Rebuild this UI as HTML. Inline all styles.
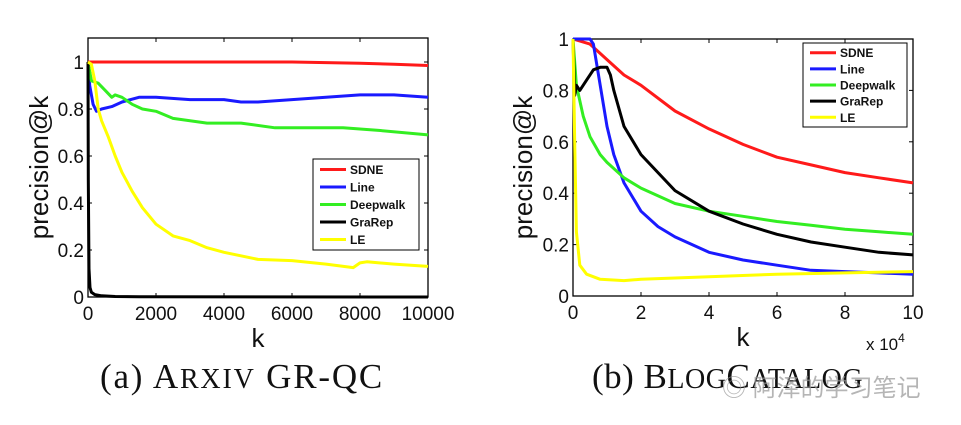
<!DOCTYPE html>
<html><head><meta charset="utf-8">
<style>
html,body{margin:0;padding:0;background:#fff;}
body{width:961px;height:425px;overflow:hidden;position:relative;}
svg{position:absolute;left:0;top:0;}
.cap{position:absolute;font-family:"Liberation Serif",serif;font-size:35px;color:#111;white-space:nowrap;letter-spacing:1.8px;}
.sc{font-size:0.8em;}
.wm{position:absolute;font-family:"Liberation Sans","Noto Sans CJK SC",sans-serif;font-size:24px;color:rgba(150,150,150,0.7);white-space:nowrap;}
</style></head>
<body>
<svg id="chart" width="961" height="425"></svg>
<div class="cap" style="left:100px;top:357px">(a) A<span class="sc">RXIV</span> GR-QC</div>
<div class="cap" style="left:592px;top:357px;letter-spacing:0.5px">(b) B<span class="sc">LOG</span>C<span class="sc">ATALOG</span></div>
<div class="wm" style="left:722px;top:368px">◎ 阿泽的学习笔记</div>
<script>
// ---- Left chart data (ARXIV GR-QC), x = k ----
const aSdneK=[0,2000,4000,6000,8000,9000,10000];
const aSdneV=[1,1,1,1,0.995,0.99,0.985];
const aLineK=[0,50,150,250,400,700,1000,1500,2000,3000,4000,4500,5000,6000,7000,8000,9000,10000];
const aLineV=[1,0.9,0.82,0.79,0.8,0.81,0.83,0.85,0.85,0.84,0.84,0.83,0.83,0.84,0.85,0.86,0.86,0.85];
const aDeepK=[0,100,300,500,700,800,1000,1300,1600,2000,2500,3500,4500,5500,6500,7500,8500,10000];
const aDeepV=[1,0.92,0.91,0.88,0.85,0.86,0.85,0.82,0.8,0.79,0.76,0.74,0.74,0.72,0.72,0.72,0.71,0.69];
const aGraK=[0,10,30,60,100,200,400,800,1500,10000];
const aGraV=[1,0.5,0.12,0.04,0.02,0.01,0.005,0.002,0.001,0];
const aLeK=[0,100,200,300,400,600,800,1000,1300,1600,2000,2500,3000,3500,4000,5000,6000,7000,7800,8000,8200,9000,10000];
const aLeV=[1,0.99,0.92,0.8,0.75,0.68,0.6,0.53,0.45,0.38,0.31,0.26,0.24,0.21,0.19,0.16,0.155,0.14,0.125,0.145,0.15,0.14,0.13];
const aXTicks=[0,2000,4000,6000,8000,10000];
const aYTicks=[0,0.2,0.4,0.6,0.8,1];
const aYLabels=["0","0.2","0.4","0.6","0.8","1"];
// ---- Right chart data (BLOGCATALOG), x = k / 10^4 ----
const bSdneK=[0,0.5,1,1.5,2,3,4,5,6,7,8,9,10];
const bSdneV=[1,0.98,0.92,0.86,0.82,0.72,0.65,0.59,0.54,0.51,0.48,0.46,0.44];
const bLineK=[0,0.4,0.5,0.6,0.8,1,1.2,1.5,2,2.5,3,4,5,6,7,8,9,10];
const bLineV=[1,1,1,0.98,0.82,0.66,0.55,0.44,0.33,0.27,0.23,0.17,0.14,0.12,0.1,0.095,0.09,0.085];
const bDeepK=[0,0.1,0.3,0.5,0.8,1,1.5,2,3,4,5,6,7,8,9,10];
const bDeepV=[1,0.82,0.7,0.62,0.55,0.52,0.46,0.42,0.36,0.33,0.31,0.29,0.275,0.26,0.25,0.24];
const bGraK=[0,0.05,0.1,0.2,0.4,0.6,0.8,1,1.1,1.2,1.5,2,3,4,5,6,7,8,9,10];
const bGraV=[1,0.78,0.82,0.8,0.84,0.88,0.89,0.89,0.86,0.8,0.66,0.55,0.41,0.33,0.28,0.24,0.21,0.19,0.17,0.16];
const bLeK=[0,0.05,0.1,0.2,0.4,0.8,1.5,2,4,6,8,10];
const bLeV=[1,0.6,0.25,0.12,0.085,0.065,0.06,0.065,0.075,0.085,0.09,0.095];
const bXTicks=[0,2,4,6,8,10];
const bYTicks=[0,0.2,0.4,0.6,0.8,1];
const bYLabels=["0","0.2","0.4","0.6","0.8","1"];
const names=["SDNE","Line","Deepwalk","GraRep","LE"];
const colors=["#ff1a1a","#1a1aff","#33ee22","#000000","#ffff00"];

const NS="http://www.w3.org/2000/svg";
const svg=document.getElementById('chart');
function mk(tag,attrs,parent){const e=document.createElementNS(NS,tag);for(const k in attrs)e.setAttribute(k,attrs[k]);(parent||svg).appendChild(e);return e;}

function drawChart(cfg){
  const g=mk('g',{});
  
  
  const X=v=>cfg.x0+(v-cfg.xmin)/(cfg.xmax-cfg.xmin)*(cfg.x1-cfg.x0);
  const Y=v=>cfg.y0-(v-0)/(cfg.ymax)*(cfg.y0-cfg.y1);
  const fr=mk('rect',{x:cfg.x0,y:cfg.top,width:cfg.x1-cfg.x0,height:cfg.y0-cfg.top,fill:'none',stroke:'#000','stroke-width':1.3},g);
  
  
  cfg.xt.forEach(t=>{
    const x=X(t);
    mk('line',{x1:x,y1:cfg.y0,x2:x,y2:cfg.y0-4,stroke:'#000'},g);
    mk('line',{x1:x,y1:cfg.top,x2:x,y2:cfg.top+4,stroke:'#000'},g);
    const tx=mk('text',{x:x,y:cfg.y0+23,'text-anchor':'middle','font-family':'Liberation Sans, sans-serif','font-size':19,fill:'#111'},g);
    tx.textContent=String(t);
    
    
  });
  cfg.yt.forEach((t,i)=>{
    const y=Y(t);
    mk('line',{x1:cfg.x0,y1:y,x2:cfg.x0+4,y2:y,stroke:'#000'},g);
    mk('line',{x1:cfg.x1,y1:y,x2:cfg.x1-4,y2:y,stroke:'#000'},g);
    const tx=mk('text',{x:cfg.x0-4,y:y+7,'text-anchor':'end','font-family':'Liberation Sans, sans-serif','font-size':19,fill:'#111'},g);
    tx.textContent=cfg.yl[i];
    
    
  });
  cfg.series.forEach((s,i)=>{
    const d=s[0].map((k,j)=>(j?'L':'M')+X(k).toFixed(1)+','+Y(s[1][j]).toFixed(1)).join(' ');
    const p=mk('path',{d:d,fill:'none',stroke:colors[i],'stroke-width':3,'stroke-linejoin':'round'},g);
    
    
  });
  const yt=mk('text',{x:0,y:0,transform:`translate(${cfg.ylx},${(cfg.top+cfg.y0)/2}) rotate(-90)`,'text-anchor':'middle','font-family':'Liberation Sans, sans-serif','font-size':26,fill:'#111'},g);
  yt.textContent='precision@k';
  
  
  const xt=mk('text',{x:(cfg.x0+cfg.x1)/2,y:cfg.y0+50,'text-anchor':'middle','font-family':'Liberation Sans, sans-serif','font-size':26,fill:'#111'},g);
  xt.textContent='k';
  
  
  const L=cfg.leg;
  const lg=mk('g',{},g);
  
  
  mk('rect',{x:L.x,y:L.y,width:L.w,height:L.h,fill:'#fff',stroke:'#000','stroke-width':1},lg);
  names.forEach((n,i)=>{
    const yy=L.y+L.h*(i+0.6)/5.2;
    const ln=mk('line',{x1:L.x+7,y1:yy,x2:L.x+33,y2:yy,stroke:colors[i],'stroke-width':3},lg);
    
    
    const t=mk('text',{x:L.x+37,y:yy+4.5,'font-family':'Liberation Sans, sans-serif','font-size':12,'font-weight':'bold',fill:'#111'},lg);
    t.textContent=n;
    
    
  });
  return g;
}

drawChart({id:'chart-arxiv',x0:88,x1:428,xmin:0,xmax:10000,y0:297,y1:62,top:38,ymax:1,
  xt:aXTicks,yt:aYTicks,yl:aYLabels,ylx:48,
  series:[[aSdneK,aSdneV],[aLineK,aLineV],[aDeepK,aDeepV],[aGraK,aGraV],[aLeK,aLeV]],
  leg:{x:313,y:159,w:106,h:91}});
drawChart({id:'chart-blogcatalog',x0:573,x1:913,xmin:0,xmax:10,y0:296,y1:39,top:39,ymax:1,
  xt:bXTicks,yt:bYTicks,yl:bYLabels,ylx:532,
  series:[[bSdneK,bSdneV],[bLineK,bLineV],[bDeepK,bDeepV],[bGraK,bGraV],[bLeK,bLeV]],
  leg:{x:803,y:43,w:104,h:84}});
const ex=mk('text',{x:866,y:350,'font-family':'Liberation Sans, sans-serif','font-size':17,fill:'#111'});
ex.innerHTML='x 10<tspan dy="-8" font-size="12">4</tspan>';


</script>
</body></html>
